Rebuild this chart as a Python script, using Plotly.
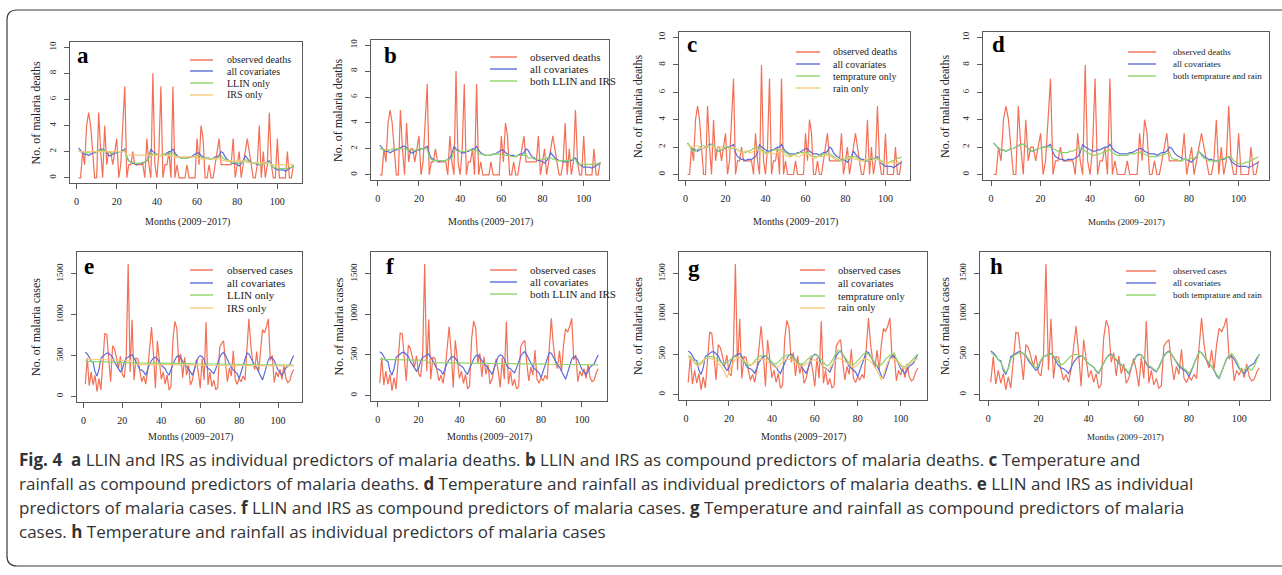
import plotly.graph_objects as go

W, H = 1282, 575
months = list(range(1, 109))

deaths_observed = (
    [0, 0, 2, 1, 4, 5, 4, 2, 0, 0, 5, 2]
    + [0, 4, 1, 2, 2, 1, 2, 3, 0, 1, 4, 7]
    + [0, 1, 1, 2, 1, 1, 1, 1, 1, 0, 3, 1]
    + [0, 8, 1, 0, 2, 7, 0, 1, 1, 2, 0, 7]
    + [0, 1, 0, 0, 0, 0, 1, 0, 0, 0, 0, 3]
    + [1, 4, 3, 0, 0, 1, 0, 0, 1, 2, 3, 1]
    + [1, 1, 1, 1, 1, 3, 0, 1, 2, 0, 1, 2]
    + [3, 2, 1, 0, 0, 1, 4, 0, 2, 0, 1, 5]
    + [1, 0, 0, 3, 0, 0, 0, 0, 2, 0, 0, 1]
)
deaths_all_covariates = (
    [2.3, 2.1, 1.9, 1.8, 1.8, 1.7, 1.8, 1.9, 1.9, 2.0, 2.1, 2.2]
    + [2.2, 2.1, 1.9, 1.7, 1.7, 1.8, 1.9, 1.9, 2.0, 2.0, 2.1, 2.2]
    + [1.6, 1.3, 1.2, 1.1, 1.1, 1.0, 1.1, 1.1, 1.1, 1.2, 1.3, 1.6]
    + [2.2, 2.0, 1.9, 1.8, 1.7, 1.7, 1.8, 1.8, 1.9, 2.0, 2.0, 2.2]
    + [1.9, 1.7, 1.6, 1.5, 1.5, 1.5, 1.5, 1.6, 1.6, 1.7, 1.8, 1.9]
    + [1.9, 1.7, 1.6, 1.5, 1.5, 1.5, 1.4, 1.5, 1.6, 1.6, 1.7, 2.0]
    + [1.9, 1.6, 1.4, 1.3, 1.2, 1.1, 1.1, 1.0, 0.9, 1.1, 1.3, 1.7]
    + [1.5, 1.3, 1.2, 1.1, 1.1, 1.0, 1.0, 1.0, 1.1, 1.1, 1.2, 1.3]
    + [1.0, 0.8, 0.7, 0.6, 0.6, 0.6, 0.6, 0.5, 0.6, 0.7, 0.8, 0.9]
)
deaths_llin_only = (
    [2.1, 2.0, 2.0, 2.0, 1.9, 1.9, 2.0, 2.0, 2.0, 2.0, 2.1, 2.1]
    + [2.1, 2.1, 2.0, 1.9, 1.9, 1.9, 2.0, 2.0, 2.0, 2.0, 2.0, 2.1]
    + [1.5, 1.3, 1.2, 1.2, 1.1, 1.1, 1.1, 1.1, 1.2, 1.2, 1.3, 1.5]
    + [1.9, 1.8, 1.8, 1.8, 1.7, 1.7, 1.8, 1.8, 1.8, 1.8, 1.9, 1.9]
    + [1.7, 1.6, 1.6, 1.5, 1.5, 1.5, 1.5, 1.5, 1.6, 1.6, 1.6, 1.7]
    + [1.7, 1.6, 1.5, 1.5, 1.5, 1.4, 1.4, 1.5, 1.5, 1.5, 1.6, 1.7]
    + [1.5, 1.4, 1.3, 1.3, 1.2, 1.2, 1.2, 1.1, 1.1, 1.2, 1.2, 1.4]
    + [1.3, 1.2, 1.2, 1.1, 1.1, 1.1, 1.0, 1.0, 1.1, 1.1, 1.1, 1.2]
    + [0.9, 0.8, 0.8, 0.7, 0.7, 0.7, 0.7, 0.7, 0.7, 0.8, 0.8, 0.9]
)
deaths_irs_only = (
    [2.0, 2.0, 2.0, 2.0, 2.0, 2.0, 2.0, 2.0, 2.0, 2.0, 2.0, 2.0]
    + [2.0, 2.0, 2.0, 2.0, 2.0, 2.0, 2.0, 2.0, 2.0, 2.0, 2.0, 2.0]
    + [1.75, 1.75, 1.75, 1.75, 1.75, 1.75, 1.75, 1.75, 1.75, 1.75, 1.75, 1.75]
    + [1.7, 1.7, 1.7, 1.7, 1.7, 1.7, 1.7, 1.7, 1.7, 1.7, 1.7, 1.7]
    + [1.6, 1.6, 1.6, 1.6, 1.6, 1.6, 1.6, 1.6, 1.6, 1.6, 1.6, 1.6]
    + [1.45, 1.45, 1.45, 1.45, 1.45, 1.45, 1.45, 1.45, 1.45, 1.45, 1.45, 1.45]
    + [1.3, 1.3, 1.3, 1.3, 1.3, 1.3, 1.3, 1.3, 1.3, 1.3, 1.3, 1.3]
    + [1.15, 1.15, 1.15, 1.15, 1.15, 1.15, 1.15, 1.15, 1.15, 1.15, 1.15, 1.15]
    + [1.0, 1.0, 1.0, 1.0, 1.0, 1.0, 1.0, 1.0, 1.0, 1.0, 1.0, 1.0]
)
deaths_llin_irs = (
    [2.0, 2.0, 1.9, 1.9, 1.9, 1.9, 2.0, 2.0, 2.0, 2.0, 2.0, 2.0]
    + [2.0, 2.0, 1.9, 1.9, 1.9, 1.9, 1.9, 2.0, 2.0, 2.0, 2.0, 2.0]
    + [1.3, 1.2, 1.1, 1.1, 1.1, 1.1, 1.1, 1.1, 1.1, 1.2, 1.2, 1.3]
    + [1.9, 1.9, 1.8, 1.8, 1.8, 1.8, 1.8, 1.9, 1.9, 1.9, 1.9, 1.9]
    + [1.6, 1.6, 1.6, 1.5, 1.5, 1.5, 1.5, 1.6, 1.6, 1.6, 1.6, 1.6]
    + [1.5, 1.5, 1.5, 1.5, 1.4, 1.4, 1.4, 1.5, 1.5, 1.5, 1.5, 1.6]
    + [1.3, 1.3, 1.3, 1.2, 1.2, 1.2, 1.2, 1.2, 1.2, 1.3, 1.3, 1.3]
    + [1.2, 1.2, 1.1, 1.1, 1.1, 1.1, 1.1, 1.1, 1.1, 1.2, 1.2, 1.2]
    + [0.8, 0.8, 0.8, 0.8, 0.8, 0.8, 0.8, 0.8, 0.8, 0.8, 0.9, 0.9]
)
deaths_temp_only = (
    [2.3, 2.1, 1.8, 1.7, 1.7, 1.8, 2.0, 2.1, 2.1, 2.0, 2.0, 2.1]
    + [2.2, 2.1, 1.9, 1.7, 1.7, 1.8, 1.9, 2.0, 2.0, 2.0, 1.9, 1.9]
    + [1.9, 1.8, 1.7, 1.7, 1.6, 1.6, 1.7, 1.7, 1.8, 1.9, 2.0, 2.0]
    + [1.9, 1.8, 1.7, 1.6, 1.6, 1.6, 1.7, 1.8, 1.8, 1.8, 1.8, 1.8]
    + [1.7, 1.6, 1.5, 1.4, 1.4, 1.4, 1.5, 1.5, 1.6, 1.6, 1.6, 1.6]
    + [1.6, 1.5, 1.4, 1.3, 1.3, 1.3, 1.4, 1.4, 1.5, 1.5, 1.5, 1.5]
    + [1.4, 1.3, 1.2, 1.1, 1.0, 1.0, 1.1, 1.2, 1.2, 1.3, 1.3, 1.3]
    + [1.3, 1.2, 1.1, 1.0, 1.0, 1.0, 1.1, 1.1, 1.2, 1.2, 1.2, 1.2]
    + [1.1, 1.0, 0.9, 0.8, 0.8, 0.9, 1.0, 1.0, 1.1, 1.2, 1.2, 1.3]
)
deaths_rain_only = (
    [2.2, 2.1, 2.0, 2.0, 2.1, 2.1, 2.0, 1.9, 1.9, 2.0, 2.1, 2.1]
    + [2.1, 2.0, 1.9, 1.9, 2.0, 2.0, 1.9, 1.8, 1.8, 1.9, 2.0, 2.0]
    + [1.9, 1.8, 1.7, 1.6, 1.6, 1.7, 1.7, 1.6, 1.6, 1.7, 1.8, 1.8]
    + [1.8, 1.7, 1.6, 1.5, 1.5, 1.6, 1.6, 1.5, 1.5, 1.6, 1.7, 1.7]
    + [1.5, 1.4, 1.3, 1.3, 1.3, 1.4, 1.4, 1.3, 1.3, 1.4, 1.5, 1.5]
    + [1.5, 1.4, 1.3, 1.2, 1.2, 1.3, 1.3, 1.3, 1.3, 1.4, 1.4, 1.4]
    + [1.3, 1.2, 1.1, 1.1, 1.1, 1.2, 1.2, 1.1, 1.1, 1.2, 1.2, 1.2]
    + [1.1, 1.1, 1.0, 1.0, 1.0, 1.1, 1.1, 1.0, 1.0, 1.1, 1.1, 1.1]
    + [1.0, 0.9, 0.9, 0.8, 0.8, 0.9, 0.9, 0.8, 0.8, 0.9, 0.9, 1.0]
)
deaths_temp_rain = (
    [2.3, 2.1, 1.9, 1.8, 1.8, 1.7, 1.8, 1.9, 1.9, 2.0, 2.1, 2.2]
    + [2.2, 2.1, 1.9, 1.7, 1.7, 1.8, 1.9, 1.9, 2.0, 2.0, 2.0, 2.0]
    + [1.9, 1.8, 1.7, 1.6, 1.6, 1.6, 1.6, 1.7, 1.7, 1.8, 1.9, 1.9]
    + [1.9, 1.7, 1.6, 1.5, 1.4, 1.4, 1.5, 1.5, 1.6, 1.7, 1.7, 1.8]
    + [1.6, 1.5, 1.4, 1.4, 1.4, 1.4, 1.4, 1.5, 1.5, 1.5, 1.6, 1.6]
    + [1.6, 1.5, 1.4, 1.3, 1.3, 1.3, 1.3, 1.4, 1.4, 1.5, 1.5, 1.6]
    + [1.2, 1.1, 1.1, 1.0, 1.0, 1.1, 1.1, 1.1, 1.2, 1.2, 1.3, 1.7]
    + [1.4, 1.2, 1.1, 1.0, 1.0, 1.0, 1.0, 1.0, 1.1, 1.2, 1.2, 1.3]
    + [1.3, 1.0, 0.9, 0.8, 0.8, 0.8, 0.9, 0.9, 1.0, 1.1, 1.2, 1.3]
)

cases_observed = (
    [150, 470, 130, 300, 140, 260, 60, 220, 80, 450, 770, 760]
    + [500, 180, 620, 580, 470, 350, 490, 270, 230, 480, 1620, 300]
    + [940, 200, 470, 460, 310, 180, 250, 150, 310, 600, 850, 520]
    + [100, 680, 420, 210, 300, 150, 260, 80, 120, 700, 920, 830]
    + [400, 520, 230, 480, 260, 380, 140, 200, 330, 450, 300, 100]
    + [460, 200, 910, 140, 300, 120, 200, 80, 110, 600, 650, 680]
    + [400, 180, 350, 250, 560, 200, 150, 220, 180, 250, 200, 600]
    + [950, 620, 420, 330, 550, 300, 620, 820, 780, 850, 950, 440]
    + [500, 170, 300, 240, 330, 210, 380, 220, 170, 190, 280, 330]
)
cases_all_covariates = (
    [540, 520, 480, 430, 420, 300, 250, 330, 470, 490, 510, 530]
    + [530, 510, 480, 420, 380, 330, 300, 330, 420, 470, 480, 500]
    + [510, 470, 420, 360, 330, 320, 300, 260, 330, 400, 440, 470]
    + [480, 460, 420, 380, 360, 340, 290, 260, 330, 400, 450, 490]
    + [500, 470, 430, 390, 370, 340, 300, 260, 330, 420, 480, 500]
    + [490, 450, 380, 340, 330, 300, 280, 340, 420, 480, 520, 540]
    + [500, 440, 400, 350, 330, 300, 280, 220, 300, 380, 460, 530]
    + [520, 470, 420, 380, 350, 300, 230, 200, 280, 380, 450, 480]
    + [470, 440, 380, 320, 290, 260, 300, 350, 370, 390, 450, 500]
)
cases_llin_only = (
    [430, 430, 428, 428, 426, 426, 425, 425, 424, 424, 422, 422]
    + [420, 420, 418, 418, 417, 417, 416, 416, 415, 415, 414, 414]
    + [412, 412, 411, 411, 410, 410, 410, 409, 409, 408, 408, 408]
    + [407, 407, 406, 406, 406, 405, 405, 405, 404, 404, 404, 403]
    + [403, 403, 402, 402, 402, 401, 401, 401, 400, 400, 400, 400]
    + [399, 399, 399, 398, 398, 398, 397, 397, 397, 396, 396, 396]
    + [395, 395, 395, 394, 394, 394, 393, 393, 393, 392, 392, 392]
    + [391, 391, 391, 390, 390, 390, 389, 389, 389, 388, 388, 388]
    + [387, 387, 387, 386, 386, 386, 385, 385, 385, 384, 384, 384]
)
cases_irs_only = (
    [455, 455, 454, 454, 453, 453, 452, 452, 451, 451, 450, 450]
    + [448, 448, 447, 447, 446, 446, 445, 445, 444, 444, 443, 443]
    + [392, 392, 391, 391, 391, 390, 390, 390, 389, 389, 389, 388]
    + [388, 388, 387, 387, 387, 387, 386, 386, 386, 386, 385, 385]
    + [385, 385, 385, 384, 384, 384, 384, 384, 383, 383, 383, 383]
    + [383, 382, 382, 382, 382, 382, 381, 381, 381, 381, 381, 380]
    + [380, 380, 380, 380, 380, 379, 379, 379, 379, 379, 379, 378]
    + [378, 378, 378, 378, 378, 377, 377, 377, 377, 377, 377, 377]
    + [376, 376, 376, 376, 376, 376, 375, 375, 375, 375, 375, 375]
)
cases_llin_irs = (
    [445, 445, 444, 444, 443, 443, 442, 442, 441, 441, 440, 440]
    + [439, 439, 438, 438, 437, 437, 436, 436, 435, 435, 434, 434]
    + [405, 405, 404, 404, 404, 403, 403, 403, 402, 402, 402, 401]
    + [401, 401, 400, 400, 400, 399, 399, 399, 398, 398, 398, 397]
    + [397, 397, 396, 396, 396, 395, 395, 395, 394, 394, 394, 393]
    + [393, 393, 392, 392, 392, 391, 391, 391, 390, 390, 390, 389]
    + [389, 389, 388, 388, 388, 387, 387, 387, 386, 386, 386, 385]
    + [385, 385, 384, 384, 384, 383, 383, 383, 382, 382, 382, 381]
    + [381, 381, 380, 380, 380, 379, 379, 379, 378, 378, 378, 377]
)
cases_temp_only = (
    [480, 470, 440, 400, 380, 380, 400, 430, 450, 460, 470, 470]
    + [460, 450, 430, 400, 380, 380, 400, 430, 450, 460, 470, 470]
    + [460, 440, 410, 380, 360, 360, 380, 420, 450, 470, 480, 490]
    + [480, 460, 430, 400, 380, 380, 400, 430, 460, 480, 490, 490]
    + [480, 460, 430, 400, 380, 380, 390, 420, 450, 470, 480, 490]
    + [490, 470, 440, 400, 370, 360, 380, 420, 470, 520, 550, 530]
    + [500, 460, 420, 390, 370, 370, 390, 420, 460, 490, 510, 520]
    + [500, 470, 430, 390, 360, 350, 370, 400, 440, 470, 490, 490]
    + [520, 440, 400, 370, 350, 340, 360, 390, 420, 450, 480, 500]
)
cases_rain_only = (
    [470, 450, 420, 390, 360, 350, 380, 420, 440, 450, 450, 440]
    + [430, 410, 390, 360, 320, 280, 210, 260, 340, 400, 440, 460]
    + [460, 440, 420, 400, 380, 370, 380, 400, 420, 430, 440, 440]
    + [430, 410, 390, 360, 340, 330, 350, 380, 410, 430, 440, 440]
    + [430, 410, 400, 380, 360, 350, 360, 380, 400, 420, 430, 430]
    + [420, 400, 380, 350, 310, 300, 330, 370, 410, 440, 450, 440]
    + [430, 410, 390, 370, 350, 340, 350, 380, 410, 430, 440, 440]
    + [430, 410, 380, 340, 300, 250, 180, 240, 330, 400, 440, 450]
    + [440, 420, 390, 360, 330, 320, 340, 370, 400, 420, 440, 450]
)
cases_temp_rain = (
    [520, 500, 470, 430, 400, 330, 270, 320, 440, 480, 500, 510]
    + [520, 510, 490, 440, 400, 360, 330, 360, 430, 470, 480, 500]
    + [500, 480, 440, 400, 370, 380, 410, 450, 480, 490, 500, 490]
    + [480, 460, 420, 380, 360, 340, 300, 270, 330, 400, 450, 480]
    + [490, 470, 440, 400, 380, 350, 310, 270, 330, 410, 470, 490]
    + [490, 460, 400, 360, 340, 310, 290, 330, 410, 470, 510, 530]
    + [500, 450, 410, 370, 350, 320, 300, 260, 310, 380, 450, 520]
    + [520, 480, 430, 390, 360, 310, 250, 210, 280, 370, 440, 470]
    + [510, 470, 420, 340, 280, 300, 340, 320, 300, 350, 420, 500]
)

x_ticks = [0, 20, 40, 60, 80, 100]
death_ticks = [0, 2, 4, 6, 8, 10]
case_ticks = [0, 500, 1000, 1500]
x_title = "Months (2009\u22122017)"
death_title = "No. of malaria deaths"
case_title = "No. of malaria cases"

caption_lines = [
    "<b>Fig. 4</b>\u00a0\u00a0<b>a</b> LLIN and IRS as individual predictors of malaria deaths. "
    "<b>b</b> LLIN and IRS as compound predictors of malaria deaths. <b>c</b> Temperature and",
    "rainfall as compound predictors of malaria deaths. <b>d</b> Temperature and rainfall as "
    "individual predictors of malaria deaths. <b>e</b> LLIN and IRS as individual",
    "predictors of malaria cases. <b>f</b> LLIN and IRS as compound predictors of malaria cases. "
    "<b>g</b> Temperature and rainfall as compound predictors of malaria",
    "cases. <b>h</b> Temperature and rainfall as individual predictors of malaria cases",
]

RED = "#F36F55"
BLUE = "#5C6CD8"
GREEN = "#8ED46A"
YELLOW = "#F9C97A"
SERIF = "Liberation Serif"

panels = [
    dict(letter="a", box=(70, 302, 42, 183), kind="d",
         series=[("observed deaths", deaths_observed, RED), ("all covariates", deaths_all_covariates, BLUE),
                 ("LLIN only", deaths_llin_only, GREEN), ("IRS only", deaths_irs_only, YELLOW)],
         leg=(190, 213, 225, [60, 71, 83, 95], 10), lab=(83, 55), ytx=36, mx=187, my=222, ms=10),
    dict(letter="b", box=(371, 609, 40, 180), kind="d",
         series=[("observed deaths", deaths_observed, RED), ("all covariates", deaths_all_covariates, BLUE),
                 ("both LLIN and IRS", deaths_llin_irs, GREEN)],
         leg=(490, 517, 528, [57, 69, 81], 11), lab=(390, 55), ytx=338, mx=490, my=222, ms=10),
    dict(letter="c", box=(679, 910, 32, 180), kind="d",
         series=[("observed deaths", deaths_observed, RED), ("all covariates", deaths_all_covariates, BLUE),
                 ("temprature only", deaths_temp_only, GREEN), ("rain only", deaths_rain_only, YELLOW)],
         leg=(796, 820, 831, [52, 64, 76, 88], 10), lab=(692, 45), ytx=638, mx=795, my=222, ms=10),
    dict(letter="d", box=(983, 1269, 32, 180), kind="d",
         series=[("observed deaths", deaths_observed, RED), ("all covariates", deaths_all_covariates, BLUE),
                 ("both temprature and rain", deaths_temp_rain, GREEN)],
         leg=(1128, 1156, 1171, [52, 64, 76], 9), lab=(998, 45), ytx=945, mx=1126, my=222, ms=9),
    dict(letter="e", box=(77, 302, 252, 402), kind="c",
         series=[("observed cases", cases_observed, RED), ("all covariates", cases_all_covariates, BLUE),
                 ("LLIN only", cases_llin_only, GREEN), ("IRS only", cases_irs_only, YELLOW)],
         leg=(190, 213, 225, [270, 283, 295, 308], 11), lab=(89, 267), ytx=36, mx=190, my=437, ms=10),
    dict(letter="f", box=(371, 607, 252, 401), kind="c",
         series=[("observed cases", cases_observed, RED), ("all covariates", cases_all_covariates, BLUE),
                 ("both LLIN and IRS", cases_llin_irs, GREEN)],
         leg=(490, 517, 528, [270, 282, 294], 11), lab=(390, 267), ytx=338, mx=489, my=437, ms=10),
    dict(letter="g", box=(679, 927, 252, 400), kind="c",
         series=[("observed cases", cases_observed, RED), ("all covariates", cases_all_covariates, BLUE),
                 ("temprature only", cases_temp_only, GREEN), ("rain only", cases_rain_only, YELLOW)],
         leg=(800, 825, 836, [270, 283, 296, 308], 10.5), lab=(694, 268), ytx=638, mx=803, my=437, ms=10),
    dict(letter="h", box=(980, 1270, 252, 400), kind="c",
         series=[("observed cases", cases_observed, RED), ("all covariates", cases_all_covariates, BLUE),
                 ("both temprature and rain", cases_temp_rain, GREEN)],
         leg=(1126, 1156, 1171, [271, 283, 295], 9), lab=(996, 267), ytx=945, mx=1125, my=437, ms=9),
]


def fx(px):
    return px / W


def fy(py):
    return 1 - py / H


fig = go.Figure()
layout = dict(width=W, height=H, margin=dict(l=0, r=0, t=0, b=0), autosize=False,
              paper_bgcolor="white", plot_bgcolor="white", showlegend=False)
annotations = []
shapes = []

for i, p in enumerate(panels, start=1):
    L, R, T, B = p["box"]
    xa = "x" if i == 1 else f"x{i}"
    ya = "y" if i == 1 else f"y{i}"
    for name, vals, col in p["series"]:
        assert len(vals) == 108, (name, len(vals))
        fig.add_trace(go.Scatter(x=months, y=vals, mode="lines", name=name,
                                 line=dict(color=col, width=1.2), xaxis=xa, yaxis=ya,
                                 hoverinfo="skip"))
    axis_common = dict(showgrid=False, zeroline=False, showline=True, mirror=True,
                       linecolor="#5a5a5a", linewidth=1, ticks="outside", ticklen=5,
                       tickcolor="#5a5a5a", tickwidth=1)
    xkey = "xaxis" if i == 1 else f"xaxis{i}"
    ykey = "yaxis" if i == 1 else f"yaxis{i}"
    layout[xkey] = dict(domain=[fx(L), fx(R)], range=[-3.28, 112.28], tickmode="array",
                        tickvals=x_ticks, ticktext=[str(t) for t in x_ticks], anchor=ya,
                        tickfont=dict(family=SERIF, size=10, color="#222"),
                        ticklabelstandoff=4, **axis_common)
    if p["kind"] == "d":
        yr, yt = [-0.4, 10.4], death_ticks
        ytitle = death_title
    else:
        yr, yt = [-68, 1768], case_ticks
        ytitle = case_title
    layout[ykey] = dict(domain=[fy(B), fy(T)], range=yr, tickmode="array", tickvals=yt,
                        ticktext=[str(t) for t in yt], anchor=xa, tickangle=-90,
                        tickfont=dict(family=SERIF, size=9, color="#222"),
                        ticklabelstandoff=4, **axis_common)
    annotations.append(dict(text=f"<b>{p['letter']}</b>", x=fx(p["lab"][0]), y=fy(p["lab"][1]),
                            xref="paper", yref="paper", showarrow=False, xanchor="center",
                            yanchor="middle", font=dict(family=SERIF, size=23, color="#000")))
    annotations.append(dict(text=ytitle, x=fx(p["ytx"]), y=fy((T + B) / 2), xref="paper",
                            yref="paper", showarrow=False, textangle=-90, xanchor="center",
                            yanchor="middle", font=dict(family=SERIF, size=12, color="#222")))
    annotations.append(dict(text=x_title, x=fx(p["mx"]), y=fy(p["my"]), xref="paper",
                            yref="paper", showarrow=False, xanchor="center", yanchor="middle",
                            font=dict(family=SERIF, size=p["ms"], color="#222")))
    lx0, lx1, tx, rows, fs = p["leg"]
    for (name, vals, col), ry in zip(p["series"], rows):
        shapes.append(dict(type="line", xref="paper", yref="paper", x0=fx(lx0), x1=fx(lx1),
                           y0=fy(ry), y1=fy(ry), line=dict(color=col, width=1.4)))
        annotations.append(dict(text=name, x=fx(tx), y=fy(ry), xref="paper", yref="paper",
                                showarrow=False, xanchor="left", yanchor="middle",
                                font=dict(family=SERIF, size=fs, color="#222")))

cap_y = [459, 483, 507, 531]
for line, cy in zip(caption_lines, cap_y):
    annotations.append(dict(text=line, x=fx(17), y=fy(cy), xref="paper", yref="paper",
                            showarrow=False, xanchor="left", yanchor="middle",
                            font=dict(family="Open Sans", size=17, color="#333")))

r = 10
x0, y0, x1, y1 = 7, 10, 1295, 566
path = (f"M {fx(x1)},{fy(y0)} L {fx(x0 + r)},{fy(y0)} Q {fx(x0)},{fy(y0)} {fx(x0)},{fy(y0 + r)} "
        f"L {fx(x0)},{fy(y1 - r)} Q {fx(x0)},{fy(y1)} {fx(x0 + r)},{fy(y1)} L {fx(x1)},{fy(y1)}")
shapes.append(dict(type="path", xref="paper", yref="paper", path=path,
                   line=dict(color="#3a3a3a", width=1.2)))

layout["annotations"] = annotations
layout["shapes"] = shapes
fig.update_layout(**layout)
fig.write_html("out.html", config={"displayModeBar": False},
               post_script="document.body.style.margin='0px';")
